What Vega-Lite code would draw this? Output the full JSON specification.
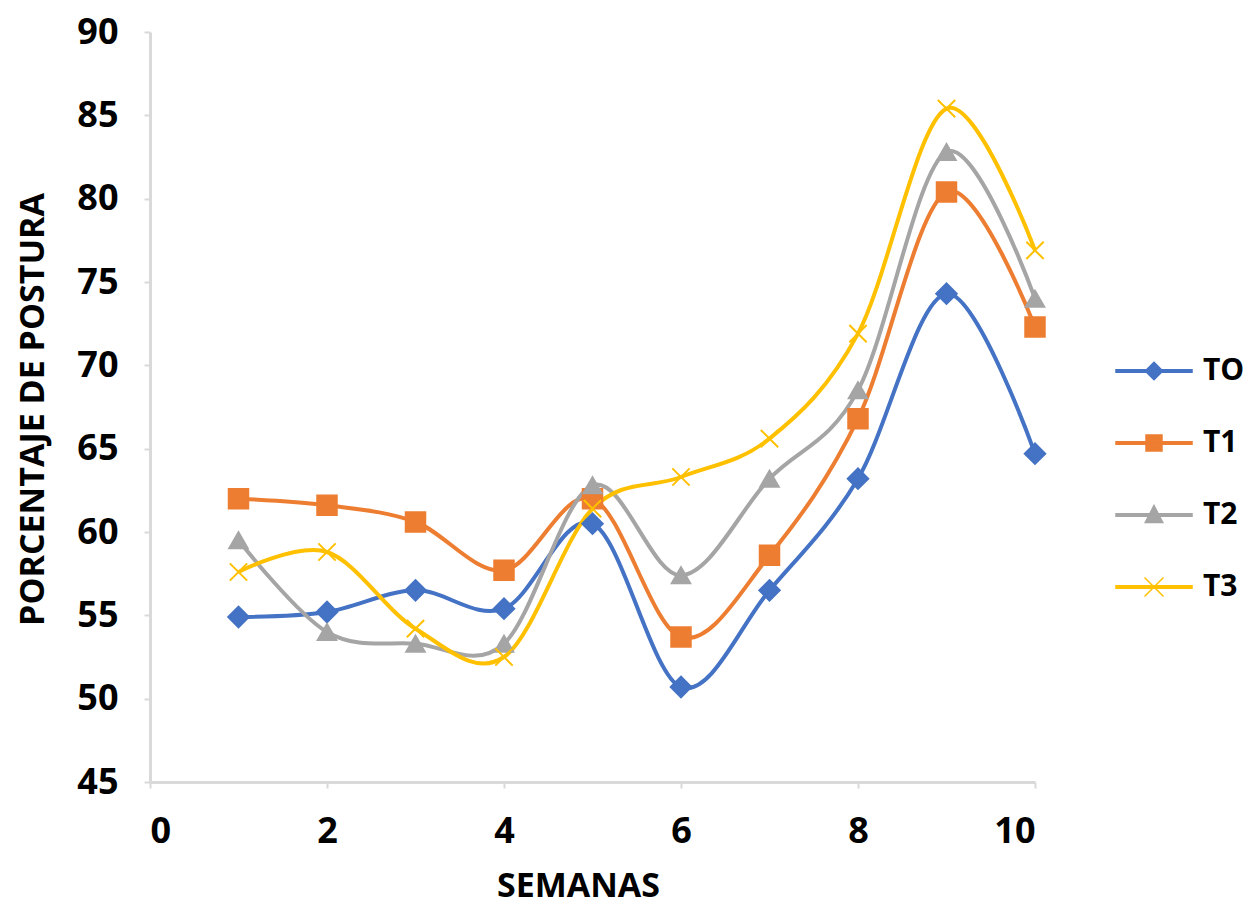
{
  "$schema": "https://vega.github.io/schema/vega-lite/v6.json",
  "width": 885,
  "height": 750,
  "autosize": "none",
  "padding": {"left": 150, "top": 32, "right": 221, "bottom": 126},
  "background": "white",
  "config": {
    "view": {"stroke": null},
    "font": "Open Sans",
    "axis": {
      "grid": false,
      "domainColor": "#d9d9d9",
      "domainWidth": 3,
      "tickColor": "#d9d9d9",
      "tickWidth": 2,
      "tickSize": 6,
      "labelFont": "Open Sans",
      "labelFontWeight": "bold",
      "labelFontSize": 36,
      "labelColor": "#000000",
      "titleFont": "Open Sans",
      "titleFontWeight": "bold",
      "titleFontSize": 34,
      "titleColor": "#000000"
    },
    "legend": {
      "labelFont": "Open Sans",
      "labelFontWeight": "bold",
      "labelFontSize": 30,
      "labelColor": "#000000"
    }
  },
  "resolve": {"legend": {"color": "independent", "shape": "independent", "size": "independent", "stroke": "independent"}},
  "data": {
    "values": [
      {"semana": 1, "serie": "TO", "valor": 54.9},
      {"semana": 2, "serie": "TO", "valor": 55.2},
      {"semana": 3, "serie": "TO", "valor": 56.5},
      {"semana": 4, "serie": "TO", "valor": 55.4},
      {"semana": 5, "serie": "TO", "valor": 60.5},
      {"semana": 6, "serie": "TO", "valor": 50.7},
      {"semana": 7, "serie": "TO", "valor": 56.5},
      {"semana": 8, "serie": "TO", "valor": 63.2},
      {"semana": 9, "serie": "TO", "valor": 74.3},
      {"semana": 10, "serie": "TO", "valor": 64.7},
      {"semana": 1, "serie": "T1", "valor": 62.0},
      {"semana": 2, "serie": "T1", "valor": 61.6},
      {"semana": 3, "serie": "T1", "valor": 60.6},
      {"semana": 4, "serie": "T1", "valor": 57.7},
      {"semana": 5, "serie": "T1", "valor": 62.0},
      {"semana": 6, "serie": "T1", "valor": 53.7},
      {"semana": 7, "serie": "T1", "valor": 58.6},
      {"semana": 8, "serie": "T1", "valor": 66.8},
      {"semana": 9, "serie": "T1", "valor": 80.4},
      {"semana": 10, "serie": "T1", "valor": 72.3},
      {"semana": 1, "serie": "T2", "valor": 59.5},
      {"semana": 2, "serie": "T2", "valor": 54.0},
      {"semana": 3, "serie": "T2", "valor": 53.3},
      {"semana": 4, "serie": "T2", "valor": 53.3},
      {"semana": 5, "serie": "T2", "valor": 62.8},
      {"semana": 6, "serie": "T2", "valor": 57.4},
      {"semana": 7, "serie": "T2", "valor": 63.2},
      {"semana": 8, "serie": "T2", "valor": 68.5},
      {"semana": 9, "serie": "T2", "valor": 82.8},
      {"semana": 10, "serie": "T2", "valor": 74.0},
      {"semana": 1, "serie": "T3", "valor": 57.6},
      {"semana": 2, "serie": "T3", "valor": 58.8},
      {"semana": 3, "serie": "T3", "valor": 54.2},
      {"semana": 4, "serie": "T3", "valor": 52.5},
      {"semana": 5, "serie": "T3", "valor": 61.4},
      {"semana": 6, "serie": "T3", "valor": 63.3},
      {"semana": 7, "serie": "T3", "valor": 65.6},
      {"semana": 8, "serie": "T3", "valor": 71.9},
      {"semana": 9, "serie": "T3", "valor": 85.4},
      {"semana": 10, "serie": "T3", "valor": 76.9}
    ]
  },
  "encoding": {
    "x": {
      "field": "semana",
      "type": "quantitative",
      "title": "SEMANAS",
      "scale": {"domain": [0, 10], "nice": false, "zero": false},
      "axis": {"values": [0, 2, 4, 6, 8, 10], "labelPadding": 26, "titlePadding": 20, "titleX": 428}
    },
    "y": {
      "field": "valor",
      "type": "quantitative",
      "title": "PORCENTAJE DE POSTURA",
      "scale": {"domain": [45, 90], "nice": false, "zero": false},
      "axis": {"values": [45, 50, 55, 60, 65, 70, 75, 80, 85, 90], "labelPadding": 26, "titleX": -100, "titleY": 377}
    }
  },
  "layer": [
    {
      "mark": {"type": "line", "interpolate": "cardinal", "strokeWidth": 4},
      "encoding": {
        "color": {
          "field": "serie",
          "type": "nominal",
          "scale": {"domain": ["TO", "T1", "T2", "T3"], "range": ["#4472C4", "#ED7D31", "#A5A5A5", "#FFC000"]},
          "legend": {
            "title": null,
            "orient": "none",
            "legendX": 965,
            "legendY": 300,
            "symbolSize": 5776,
            "symbolStrokeWidth": 2,
            "labelOffset": 10,
            "rowPadding": 18,
            "encode": {
              "symbols": {
                "update": {
                  "shape": {"signal": "datum.value === 'TO' ? 'M-1,-0.035H1V0.035H-1Z M0,-0.23L0.23,0L0,0.23L-0.23,0Z' : datum.value === 'T1' ? 'M-1,-0.035H1V0.035H-1Z M-0.21,-0.21H0.21V0.21H-0.21Z' : datum.value === 'T2' ? 'M-1,-0.035H1V0.035H-1Z M0,-0.25L0.23,0.2H-0.23Z' : 'M-1,-0.035H1V0.035H-1Z M-0.25,-0.25L0.25,0.25M-0.25,0.25L0.25,-0.25'"},
                  "fill": {"scale": "color", "field": "value"},
                  "stroke": {"scale": "color", "field": "value"},
                  "strokeWidth": {"value": 1.5}
                }
              }
            }
          }
        }
      }
    },
    {
      "mark": {"type": "point", "filled": true, "opacity": 1, "strokeWidth": 2},
      "encoding": {
        "color": {"field": "serie", "type": "nominal", "legend": null},
        "stroke": {
          "field": "serie",
          "type": "nominal",
          "scale": {"domain": ["TO", "T1", "T2", "T3"], "range": ["#4472C4", "#ED7D31", "#A5A5A5", "#FFC000"]},
          "legend": null
        },
        "shape": {
          "field": "serie",
          "type": "nominal",
          "scale": {"domain": ["TO", "T1", "T2", "T3"], "range": ["diamond", "square", "triangle-up", "M-1,-1L1,1M-1,1L1,-1"]},
          "legend": null
        },
        "size": {
          "field": "serie",
          "type": "nominal",
          "scale": {"domain": ["TO", "T1", "T2", "T3"], "range": [420, 300, 380, 480]},
          "legend": null
        }
      }
    }
  ]
}
